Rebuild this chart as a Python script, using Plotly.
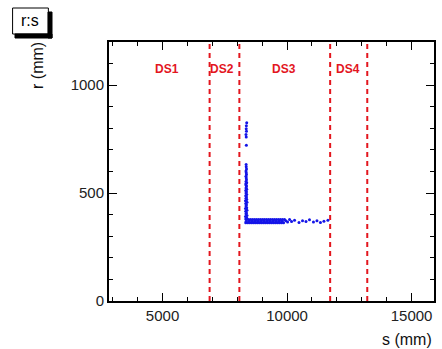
import plotly.graph_objects as go

# Detector region boundaries along s (mm)
ds_bounds = [6890, 8085, 11730, 13220]
ds_labels = ["DS1", "DS2", "DS3", "DS4"]
ds_label_s = [5160, 7390, 9870, 12440]

# Axis ticks
x_ticks = [5000, 10000, 15000]
x_ticktext = ["5000", "10000", "15000"]
y_ticks = [0, 500, 1000]

# Hits: vertical column (s ~ 8350)
col_s = [8340, 8380, 8330, 8390, 8350, 8370, 8340, 8390, 8330, 8380,
         8350, 8370, 8340, 8390, 8330, 8380, 8350, 8370, 8340, 8380,
         8350, 8370, 8340, 8380, 8350, 8370, 8360, 8340, 8380, 8350,
         8370, 8360, 8350, 8370, 8360, 8350, 8370, 8360, 8355, 8365,
         8360, 8350, 8370, 8360, 8365, 8380]
col_r = [380, 384, 392, 396, 404, 408, 416, 420, 428, 432,
         440, 446, 452, 458, 464, 470, 476, 482, 488, 494,
         500, 506, 512, 518, 524, 530, 536, 542, 548, 554,
         562, 570, 578, 586, 594, 602, 612, 622, 632, 722,
         760, 772, 786, 798, 812, 826]

# Hits: horizontal band (r ~ 370)
band_s = [8340, 8420, 8500, 8580, 8660, 8740, 8820, 8900, 8980, 9060,
          9140, 9220, 9300, 9380, 9460, 9540, 9620, 9700, 9780, 9860,
          8380, 8460, 8540, 8620, 8700, 8780, 8860, 8940, 9020, 9100,
          9180, 9260, 9340, 9420, 9500, 9580, 9660, 9740, 9820, 9900,
          8360, 8480, 8600, 8720, 8840, 8960, 9080, 9200, 9320, 9440,
          9560, 9680, 9800]
band_r = [362, 362, 362, 362, 362, 362, 362, 362, 362, 362,
          362, 362, 362, 362, 362, 362, 362, 362, 362, 362,
          378, 378, 378, 378, 378, 378, 378, 378, 378, 378,
          378, 378, 378, 378, 378, 378, 378, 378, 378, 378,
          370, 370, 370, 370, 370, 370, 370, 370, 370, 370,
          370, 370, 370]

# Hits: sparse tail of the band
tail_s = [9950, 10020, 10100, 10180, 10300, 10480, 10620, 10760, 10900,
          11060, 11200, 11340, 11480, 11640]
tail_r = [372, 366, 378, 368, 374, 364, 372, 368, 376, 366, 372, 364, 370, 374]

s_vals = col_s + band_s + tail_s
r_vals = col_r + band_r + tail_r

RED = "#e3161e"
FONT = "Liberation Sans, Arial, sans-serif"

fig = go.Figure()
fig.add_trace(go.Scatter(
    x=s_vals, y=r_vals, mode="markers",
    marker=dict(color="#1414e8", size=3, line=dict(width=0)),
    hoverinfo="skip", showlegend=False,
))

for b in ds_bounds:
    fig.add_shape(type="line", xref="x", yref="paper", x0=b, x1=b, y0=0, y1=1,
                  line=dict(color=RED, width=2, dash="5px,4px"))

for lab, xs in zip(ds_labels, ds_label_s):
    fig.add_annotation(x=xs, y=0.93, xref="x", yref="paper", text="<b>%s</b>" % lab,
                       showarrow=False, font=dict(color=RED, size=12, family=FONT))

# Plot area in pixels: x 109..436, y 42..301
PW, PH = 327.0, 259.0
def px(xp):
    return (xp - 109) / PW
def py(yp):
    return (301 - yp) / PH

# Title box outline
fig.add_shape(type="rect", xref="paper", yref="paper",
              x0=px(12), x1=px(48), y0=py(34), y1=py(8),
              fillcolor="rgba(0,0,0,0)", line=dict(color="black", width=1), layer="above")
# Shadow strips, sized in pixels relative to the plot's top-left corner
fig.add_shape(type="rect", xref="paper", yref="paper",
              xsizemode="pixel", ysizemode="pixel", xanchor=0, yanchor=1,
              x0=48 - 109, x1=52 - 109, y0=42 - 38, y1=42 - 12,
              fillcolor="black", line=dict(color="black", width=1), layer="above")
fig.add_shape(type="rect", xref="paper", yref="paper",
              xsizemode="pixel", ysizemode="pixel", xanchor=0, yanchor=1,
              x0=15 - 109, x1=52 - 109, y0=42 - 38, y1=42 - 34,
              fillcolor="black", line=dict(color="black", width=1), layer="above")
fig.add_annotation(x=px(30), y=py(21), xref="paper", yref="paper", text="r:s",
                   showarrow=False, xanchor="center", yanchor="middle",
                   font=dict(size=16, color="black", family=FONT))

# Axis titles
fig.add_annotation(x=px(37), y=py(40), xref="paper", yref="paper", text="r (mm)",
                   textangle=-90, showarrow=False, xanchor="center", yanchor="top",
                   font=dict(size=16, color="#111", family=FONT))
fig.add_annotation(x=1.0, y=py(339), xref="paper", yref="paper", text="s (mm)",
                   showarrow=False, xanchor="right", yanchor="middle",
                   font=dict(size=16, color="#111", family=FONT))

axis_common = dict(
    showgrid=False, zeroline=False, showline=True, linecolor="black", linewidth=2,
    mirror="allticks", ticks="inside", ticklen=8, tickwidth=1, tickcolor="black",
    tickfont=dict(size=15, color="#222", family=FONT),
)

fig.update_xaxes(range=[2850, 15900], tickvals=x_ticks, ticktext=x_ticktext,
                 minor=dict(dtick=1000, tick0=0, ticks="inside", ticklen=4,
                            tickcolor="black", tickwidth=1),
                 **axis_common)
fig.update_yaxes(range=[0, 1200], tickvals=y_ticks,
                 minor=dict(dtick=100, tick0=0, ticks="inside", ticklen=4,
                            tickcolor="black", tickwidth=1),
                 **axis_common)

fig.update_layout(
    width=442, height=349,
    margin=dict(l=109, r=6, t=42, b=48, pad=0),
    paper_bgcolor="white", plot_bgcolor="white",
    font=dict(family=FONT),
)

fig.write_html("out.html")
